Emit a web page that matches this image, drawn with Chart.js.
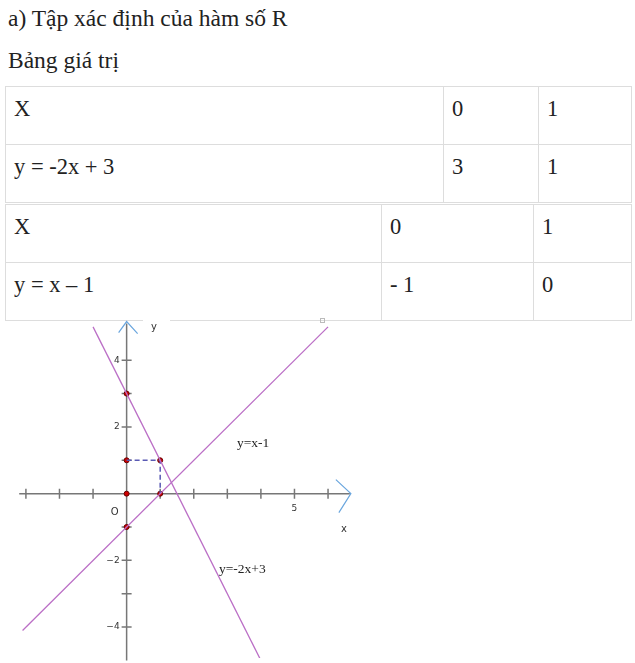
<!DOCTYPE html>
<html lang="vi">
<head>
    <meta charset="UTF-8">
    <title>Đồ thị hàm số</title>
    <script src="https://cdn.jsdelivr.net/npm/chart.js"></script>
    <style>
        body { margin: 0; background: #fff; color: #222; font-family: "Times New Roman", "Liberation Serif", Tinos, "DejaVu Serif", serif; }
        .line { position: absolute; left: 8px; font-size: 23.5px; line-height: 30px; white-space: nowrap; }
        table { position: absolute; left: 5px; width: 627px; border-collapse: collapse; font-size: 22.5px; font-family: inherit; }
        td { border: 1px solid #ddd; height: 58px; padding: 10px 8px 0; vertical-align: top; line-height: 24px; box-sizing: border-box; white-space: nowrap; }
        #graph { position: absolute; left: 0; top: 300px; z-index: 2; }
    </style>
</head>
<body>
    <div class="line" style="top:3px">a) Tập xác định của hàm số R</div>
    <div class="line" style="top:45px">Bảng giá trị</div>

    <table style="top:86px">
        <tr><td style="width:438px">X</td><td style="width:95px">0</td><td>1</td></tr>
        <tr><td>y = -2x + 3</td><td>3</td><td>1</td></tr>
    </table>
    <table style="top:204px">
        <tr><td style="width:376px">X</td><td style="width:152px">0</td><td>1</td></tr>
        <tr><td>y = x – 1</td><td>- 1</td><td>0</td></tr>
    </table>

    <canvas id="graph" width="370" height="363"></canvas>

    <script>
        // bảng giá trị
        const xValues = [0, 1];
        const y1Values = [3, 1];   // y = -2x + 3
        const y2Values = [-1, 0];  // y = x - 1

        // hai đầu đoạn thẳng được vẽ
        const line1 = [{ x: -1, y: 5 }, { x: 4, y: -5 }];
        const line2 = [{ x: -3.1, y: -4.1 }, { x: 6, y: 5 }];
        const guide = [{ x: 0, y: 1 }, { x: 1, y: 1 }, { x: 1, y: 0 }];
        const marked = [{ x: 0, y: 3 }, { x: 0, y: 1 }, { x: 1, y: 1 }, { x: 0, y: 0 }, { x: 1, y: 0 }, { x: 0, y: -1 }];

        const xTicks = [-3, -2, -1, 1, 2, 3, 4, 5, 6];
        const yTicks = [-4, -3, -2, -1, 1, 2, 3, 4];
        const xTickLabels = [5];
        const yTickLabels = [4, 2, -2, -4];

        const lineColor = '#bb6fc6';
        const serif = '"Times New Roman", "Liberation Serif", Tinos, "DejaVu Serif", serif';

        // trục toạ độ có mũi tên
        const axesPlugin = {
            id: 'axes',
            beforeDatasetsDraw(chart) {
                const c = chart.ctx, xs = chart.scales.x, ys = chart.scales.y;
                const ox = xs.getPixelForValue(0), oy = ys.getPixelForValue(0);
                const left = xs.getPixelForValue(-3.2), right = xs.getPixelForValue(6.65);
                const top = ys.getPixelForValue(5.1), bottom = ys.getPixelForValue(-5);
                c.save();
                // nền trắng sau chữ y
                c.fillStyle = '#fff';
                c.fillRect(143, 15, 27, 16);
                c.strokeStyle = '#bbb';
                c.lineWidth = 1;
                c.strokeRect(320.5, 18.5, 4, 4);

                c.strokeStyle = '#777';
                c.lineWidth = 1.5;
                c.beginPath();
                c.moveTo(left, oy); c.lineTo(right, oy);
                c.moveTo(ox, top); c.lineTo(ox, bottom);
                xTicks.forEach(v => { const p = xs.getPixelForValue(v); c.moveTo(p, oy - 5); c.lineTo(p, oy + 5); });
                yTicks.forEach(v => { const p = ys.getPixelForValue(v); c.moveTo(ox - 5, p); c.lineTo(ox + 5, p); });
                c.stroke();

                c.strokeStyle = '#6aa6de';
                c.lineWidth = 1.2;
                c.beginPath();
                c.moveTo(right - 14, oy - 14); c.lineTo(right + 1, oy); c.lineTo(right - 11, oy + 19);
                c.moveTo(ox - 8, top + 9); c.lineTo(ox, top - 2); c.lineTo(ox + 11, top + 10);
                c.stroke();

                c.fillStyle = '#333';
                c.font = '9px "DejaVu Sans"';
                c.textAlign = 'right';
                c.textBaseline = 'middle';
                yTickLabels.forEach(v => c.fillText(v < 0 ? '\u2212' + (-v) : String(v), ox - 7, ys.getPixelForValue(v)));
                c.textAlign = 'center';
                c.textBaseline = 'top';
                xTickLabels.forEach(v => c.fillText(String(v), xs.getPixelForValue(v), oy + 10));
                c.font = '10px "DejaVu Sans"';
                c.fillText('O', ox - 12, oy + 14);
                c.fillText('x', right - 6, oy + 31);
                c.fillText('y', 154, 22);

                c.font = '13.5px ' + serif;
                c.textAlign = 'left';
                c.textBaseline = 'alphabetic';
                c.fillStyle = '#222';
                c.fillText('y=x-1', 237, 147);
                c.fillText('y=-2x+3', 219, 273);
                c.restore();
            }
        };

        const ctx = document.getElementById('graph').getContext('2d');
        new Chart(ctx, {
            type: 'scatter',
            data: {
                datasets: [
                    { data: line1, showLine: true, borderColor: lineColor, borderWidth: 1.3, pointRadius: 0 },
                    { data: line2, showLine: true, borderColor: lineColor, borderWidth: 1.3, pointRadius: 0 },
                    { data: guide, showLine: true, borderColor: '#5a5ab4', borderWidth: 1.5, borderDash: [5, 3], pointRadius: 0 },
                    { data: marked, showLine: false, pointRadius: 2.5, backgroundColor: '#d00000', borderColor: '#600', borderWidth: 1 }
                ]
            },
            options: {
                responsive: false,
                animation: false,
                layout: { padding: 0 },
                scales: {
                    x: { type: 'linear', min: -3.623, max: 7.101, display: false },
                    y: { type: 'linear', min: -4.927, max: 5.656, display: false }
                },
                plugins: { legend: { display: false }, tooltip: { enabled: false } }
            },
            plugins: [axesPlugin]
        });
    </script>
</body>
</html>
